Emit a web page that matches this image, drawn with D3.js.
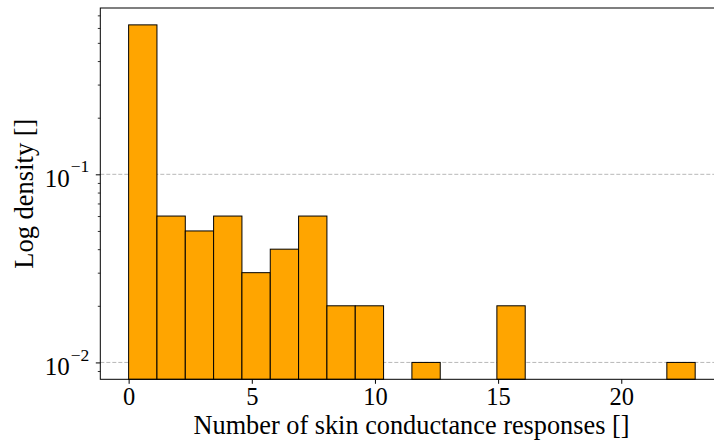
<!DOCTYPE html>
<html>
<head>
<meta charset="utf-8">
<script src="https://cdn.jsdelivr.net/npm/d3@7"></script>
<style>
  html, body { margin: 0; padding: 0; background: #fff; }
  svg { display: block; }
  text { font-family: "Liberation Serif", "Times New Roman", serif; fill: #000; }
</style>
</head>
<body>
<svg id="chart" width="714" height="444"></svg>
<script>
// Histogram bins: edges span 0..23 in 20 equal bins
const binStart = 0;
const binEnd = 23;
const binCount = 20;
// Density per bin (empty bins are 0 and are not drawn on the log axis)
const densities = [0.623, 0.06, 0.05, 0.06, 0.03, 0.04, 0.06, 0.02, 0.02, 0,
                   0.01, 0, 0, 0.02, 0, 0, 0, 0, 0, 0.01];
const xTicks = [0, 5, 10, 15, 20];
const yMajorTicks = [0.01, 0.1];
const yMinorTicks = [0.009, 0.02, 0.03, 0.04, 0.05, 0.06, 0.07, 0.08, 0.09,
                     0.2, 0.3, 0.4, 0.5, 0.6, 0.7];
const xLabel = "Number of skin conductance responses []";
const yLabel = "Log density []";

const svg = d3.select("#chart");
const plotLeft = 100.3, plotTop = 8, plotBottom = 379.3, plotRight = 723.5;
const serif = '"Liberation Serif", "Times New Roman", serif';

const binWidth = (binEnd - binStart) / binCount;
const bins = densities.map((d, i) => ({
  x0: binStart + i * binWidth,
  x1: binStart + (i + 1) * binWidth,
  v: d
}));

// Axis limits padded by 5% like the usual autoscale
const xPad = (binEnd - binStart) * 0.05;
const x = d3.scaleLinear().domain([binStart - xPad, binEnd + xPad]).range([plotLeft, plotRight]);

const pos = densities.filter(d => d > 0);
const lmin = Math.log10(d3.min(pos)), lmax = Math.log10(d3.max(pos));
const lpad = (lmax - lmin) * 0.05;
const y = d3.scaleLog().domain([Math.pow(10, lmin - lpad), Math.pow(10, lmax + lpad)]).range([plotBottom, plotTop]);

// Grid lines on the major y ticks
svg.append("g").selectAll("line").data(yMajorTicks).join("line")
  .attr("x1", plotLeft).attr("x2", plotRight)
  .attr("y1", d => y(d)).attr("y2", d => y(d))
  .attr("stroke", "#b0b0b0").attr("stroke-width", 0.9)
  .attr("stroke-dasharray", "4,2");

// Bars
svg.append("g").selectAll("rect").data(bins.filter(b => b.v > 0)).join("rect")
  .attr("x", b => x(b.x0))
  .attr("width", b => x(b.x1) - x(b.x0))
  .attr("y", b => y(b.v))
  .attr("height", b => plotBottom - y(b.v))
  .attr("fill", "#FFA500")
  .attr("stroke", "#000").attr("stroke-width", 1);

// X axis
const xAxis = svg.append("g").attr("transform", `translate(0,${plotBottom})`)
  .call(d3.axisBottom(x).tickValues(xTicks).tickSize(4.5).tickPadding(4).tickFormat(d3.format("d")));
xAxis.select(".domain").remove();
xAxis.selectAll(".tick line").attr("stroke", "#000").attr("stroke-width", 1);
xAxis.selectAll(".tick text").attr("font-size", 24.5).style("font-family", serif);

// Y axis: major ticks with power labels, minor ticks unlabeled
const yAxis = svg.append("g").attr("transform", `translate(${plotLeft},0)`)
  .call(d3.axisLeft(y).tickValues(yMajorTicks).tickSize(4.5).tickFormat(""));
yAxis.select(".domain").remove();
yAxis.selectAll(".tick line").attr("stroke", "#000").attr("stroke-width", 1);
yAxis.selectAll(".tick").each(function(d) {
  const t = d3.select(this).append("text")
    .attr("x", -11).attr("dy", "0.5em")
    .attr("text-anchor", "end")
    .attr("font-size", 25)
    .style("font-family", serif);
  t.append("tspan").text("10");
  t.append("tspan").attr("font-size", 17.5).attr("dy", "-0.85em").attr("dx", "1")
    .text("\u2212" + Math.round(-Math.log10(d)));
});
svg.append("g").attr("transform", `translate(${plotLeft},0)`)
  .call(d3.axisLeft(y).tickValues(yMinorTicks).tickSize(2.5).tickFormat(""))
  .call(g => g.select(".domain").remove())
  .selectAll(".tick line").attr("stroke", "#000").attr("stroke-width", 0.8);

// Frame
svg.append("rect").attr("x", plotLeft).attr("y", plotTop)
  .attr("width", plotRight - plotLeft).attr("height", plotBottom - plotTop)
  .attr("fill", "none").attr("stroke", "#000").attr("stroke-width", 1);

// Axis labels
svg.append("text").attr("x", 411.5).attr("y", 433.5)
  .attr("text-anchor", "middle").attr("font-size", 26.3).text(xLabel);
svg.append("text")
  .attr("transform", `translate(33,${(plotTop + plotBottom) / 2}) rotate(-90)`)
  .attr("text-anchor", "middle").attr("font-size", 26.5).text(yLabel);
</script>
</body>
</html>
